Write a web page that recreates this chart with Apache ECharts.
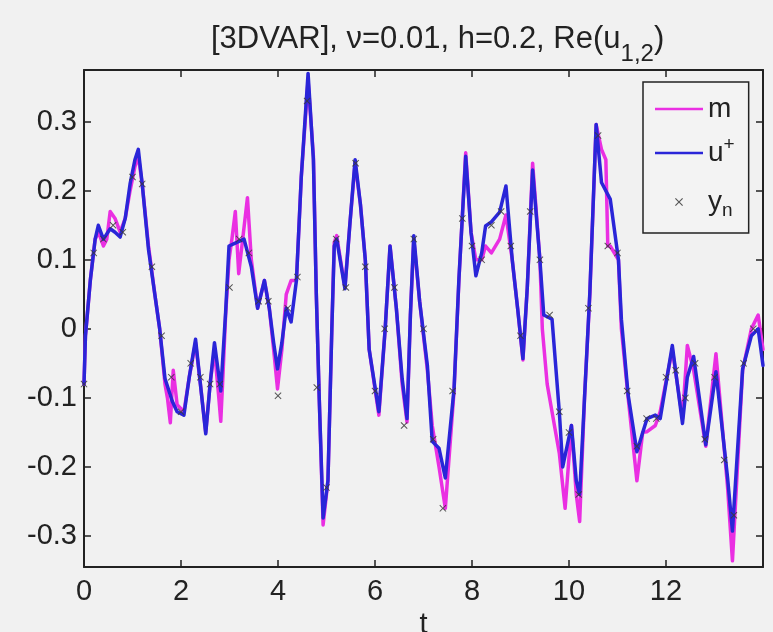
<!DOCTYPE html>
<html>
<head>
<meta charset="utf-8">
<script src="https://cdn.jsdelivr.net/npm/echarts@6/dist/echarts.min.js"></script>
<style>
html,body{margin:0;padding:0;background:#f1f1f1;}
#c{width:773px;height:632px;}
</style>
</head>
<body>
<div id="c"></div>
<script>
// ---- data ----
const titleText = '[3DVAR], ν=0.01, h=0.2, Re(u{sub|1,2})';
const xTicks = [0, 2, 4, 6, 8, 10, 12];
const yTicks = [-0.3, -0.2, -0.1, 0, 0.1, 0.2, 0.3];

// u+ (analysis, blue)
const uT = [0,0.03,0.13,0.23,0.295,0.40,0.54,0.64,0.745,0.85,0.95,1.05,1.12,1.20,1.33,1.46,1.56,1.67,1.82,1.92,2.06,2.17,2.30,2.40,2.51,2.60,2.69,2.82,2.92,2.99,3.14,3.30,3.45,3.58,3.72,3.82,3.91,3.99,4.08,4.17,4.27,4.38,4.48,4.62,4.73,4.79,4.85,4.93,5.03,5.11,5.16,5.21,5.38,5.48,5.59,5.70,5.80,5.88,6.08,6.21,6.31,6.44,6.56,6.66,6.73,6.80,6.92,7.08,7.18,7.32,7.45,7.63,7.73,7.87,7.98,8.08,8.20,8.28,8.40,8.57,8.70,8.83,8.94,9.05,9.14,9.25,9.40,9.48,9.65,9.80,9.87,10.05,10.15,10.22,10.32,10.43,10.56,10.67,10.85,11.02,11.08,11.22,11.40,11.52,11.61,11.78,11.88,12.13,12.34,12.44,12.57,12.82,13.03,13.27,13.37,13.58,13.76,13.90,14.0];
const uY = [-0.08,-0.01,0.07,0.13,0.15,0.13,0.145,0.14,0.133,0.16,0.21,0.245,0.26,0.21,0.115,0.05,0.0,-0.072,-0.105,-0.12,-0.125,-0.07,-0.015,-0.08,-0.152,-0.08,-0.02,-0.09,0.024,0.12,0.125,0.13,0.09,0.03,0.07,0.03,-0.02,-0.058,-0.02,0.03,0.01,0.07,0.22,0.37,0.245,0.05,-0.10,-0.274,-0.22,0.0,0.12,0.13,0.058,0.15,0.245,0.18,0.10,-0.03,-0.12,0.0,0.12,0.03,-0.072,-0.13,0.02,0.135,0.04,-0.053,-0.163,-0.173,-0.216,-0.087,0.072,0.25,0.14,0.077,0.11,0.149,0.155,0.169,0.207,0.10,0.03,-0.043,0.06,0.23,0.10,0.02,0.014,-0.12,-0.2,-0.14,-0.22,-0.24,-0.1,0.053,0.296,0.212,0.188,0.10,0.014,-0.096,-0.178,-0.15,-0.13,-0.125,-0.13,-0.024,-0.137,-0.07,-0.04,-0.168,-0.062,-0.216,-0.293,-0.058,-0.01,0.0,-0.053];

// m (forecast, magenta)
const mT = [0,0.03,0.13,0.23,0.30,0.40,0.47,0.54,0.64,0.745,0.85,0.95,1.05,1.12,1.20,1.33,1.46,1.56,1.67,1.72,1.78,1.84,1.92,2.06,2.17,2.30,2.40,2.51,2.60,2.69,2.78,2.82,2.87,2.92,2.99,3.05,3.12,3.19,3.37,3.45,3.58,3.72,3.82,3.91,3.99,4.08,4.17,4.27,4.38,4.48,4.62,4.73,4.79,4.85,4.93,5.03,5.11,5.16,5.21,5.38,5.48,5.59,5.70,5.80,5.88,6.08,6.21,6.31,6.44,6.56,6.66,6.73,6.80,6.92,7.08,7.18,7.32,7.45,7.63,7.73,7.87,7.98,8.08,8.20,8.28,8.40,8.57,8.70,8.83,8.94,9.05,9.14,9.25,9.40,9.45,9.55,9.65,9.80,9.92,10.05,10.15,10.22,10.32,10.43,10.56,10.67,10.76,10.80,10.85,11.02,11.08,11.22,11.40,11.52,11.61,11.78,11.88,12.13,12.34,12.44,12.57,12.82,13.03,13.27,13.37,13.58,13.76,13.90,14.0];
const mY = [-0.08,-0.01,0.07,0.13,0.14,0.12,0.13,0.17,0.16,0.14,0.16,0.20,0.235,0.25,0.21,0.12,0.05,0.0,-0.08,-0.10,-0.136,-0.06,-0.11,-0.12,-0.07,-0.02,-0.08,-0.15,-0.08,-0.03,-0.10,-0.134,-0.06,0.02,0.10,0.13,0.17,0.08,0.19,0.10,0.03,0.07,0.03,-0.03,-0.087,-0.03,0.05,0.07,0.07,0.22,0.36,0.25,0.05,-0.10,-0.284,-0.22,0.0,0.125,0.135,0.06,0.15,0.24,0.18,0.10,-0.03,-0.125,0.0,0.12,0.03,-0.08,-0.135,0.02,0.13,0.04,-0.06,-0.14,-0.20,-0.26,-0.09,0.07,0.255,0.14,0.10,0.10,0.12,0.11,0.13,0.165,0.10,0.03,-0.045,0.06,0.24,0.10,0.0,-0.08,-0.12,-0.18,-0.26,-0.14,-0.24,-0.279,-0.1,0.05,0.296,0.26,0.245,0.12,0.12,0.10,0.0,-0.10,-0.22,-0.15,-0.149,-0.14,-0.12,-0.03,-0.13,-0.024,-0.06,-0.17,-0.036,-0.23,-0.336,-0.06,0.0,0.02,-0.03];

// y_n (observations)
const yT = [0,0.2,0.4,0.6,0.8,1.0,1.2,1.4,1.6,1.8,2.0,2.2,2.4,2.6,2.8,3.0,3.2,3.4,3.6,3.8,4.0,4.2,4.4,4.6,4.8,5.0,5.2,5.4,5.6,5.8,6.0,6.2,6.4,6.6,6.8,7.0,7.2,7.4,7.6,7.8,8.0,8.2,8.4,8.6,8.8,9.0,9.2,9.4,9.6,9.8,10.0,10.2,10.4,10.6,10.8,11.0,11.2,11.4,11.6,11.8,12.0,12.2,12.4,12.6,12.8,13.0,13.2,13.4,13.6,13.8];
const yY = [-0.08,0.11,0.13,0.15,0.14,0.22,0.21,0.09,-0.01,-0.07,-0.12,-0.05,-0.07,-0.08,-0.08,0.06,0.13,0.11,0.04,0.04,-0.097,0.03,0.075,0.33,-0.085,-0.23,0.13,0.06,0.24,0.09,-0.09,0.0,0.06,-0.14,0.13,0.0,-0.16,-0.26,-0.09,0.16,0.12,0.10,0.15,0.17,0.12,-0.01,0.17,0.10,0.02,-0.12,-0.15,-0.24,0.03,0.28,0.12,0.11,-0.09,-0.17,-0.13,-0.13,-0.07,-0.06,-0.10,-0.05,-0.16,-0.07,-0.19,-0.27,-0.05,0.0];

const seriesNames = ['m', 'u+', 'y_n'];
// ---------------------------------------

const FONT = 'Liberation Sans, Arial, Helvetica, sans-serif';
const pairs = (t, v) => t.map((x, i) => [x, v[i]]);
const xMark = 'path://M0,1L1,0L5,4L9,0L10,1L6,5L10,9L9,10L5,6L1,10L0,9L4,5Z';
const lineIcon = 'path://M0,0L48,0L48,2.5L0,2.5Z';

const chart = echarts.init(document.getElementById('c'), null, {renderer: 'canvas'});
const axisLine = {show: true, onZero: false, lineStyle: {color: '#222', width: 2}};
const tickIn = {show: true, inside: true, length: 7, lineStyle: {color: '#222', width: 1.5}};

chart.setOption({
  backgroundColor: '#f1f1f1',
  animation: false,
  title: {
    text: titleText,
    left: 206, top: 17,
    textStyle: {
      fontFamily: FONT, fontSize: 31, fontWeight: 'normal', color: '#222', lineHeight: 34,
      rich: {sub: {fontFamily: FONT, fontSize: 24, color: '#222', verticalAlign: 'bottom', lineHeight: 20, padding: [0, 0, -10, 0]}}
    }
  },
  grid: {left: 84, right: 10, top: 70, bottom: 65, containLabel: false, outerBoundsMode: 'none'},
  xAxis: [{
    type: 'value', min: 0, max: 14, interval: 2, position: 'bottom',
    axisLine, axisTick: tickIn, splitLine: {show: false},
    axisLabel: {fontFamily: FONT, fontSize: 29, color: '#222', margin: 10, showMaxLabel: false},
    name: 't', nameLocation: 'middle', nameGap: 32,
    nameTextStyle: {fontFamily: FONT, fontSize: 29, color: '#222'}
  }, {
    type: 'value', min: 0, max: 14, interval: 2, position: 'top',
    axisLine, axisTick: tickIn, splitLine: {show: false}, axisLabel: {show: false}
  }],
  yAxis: [{
    type: 'value', min: -0.345, max: 0.375, position: 'left',
    axisLine, splitLine: {show: false},
    axisTick: Object.assign({}, tickIn, {customValues: yTicks}),
    axisLabel: {customValues: yTicks, fontFamily: FONT, fontSize: 29, color: '#222', margin: 7,
      formatter: v => Math.abs(v) < 1e-9 ? '0' : v.toFixed(1)}
  }, {
    type: 'value', min: -0.345, max: 0.375, position: 'right',
    axisLine, splitLine: {show: false},
    axisTick: Object.assign({}, tickIn, {customValues: yTicks}),
    axisLabel: {show: false}
  }],
  legend: {
    orient: 'vertical', left: 643, top: 82,
    padding: [13, 14, 13, 12],
    itemWidth: 48, itemHeight: 8, itemGap: 12,
    borderColor: '#222', borderWidth: 1.5, backgroundColor: '#f3f3f3',
    selectedMode: false,
    data: [{name: 'm', icon: lineIcon}, {name: 'u+', icon: lineIcon}, {name: 'y_n', icon: xMark}],
    formatter: name => name === 'u+' ? '{b|u}{sup|+}' : (name === 'y_n' ? '{b|y}{sub|n}' : '{b|m}'),
    textStyle: {
      fontFamily: FONT, fontSize: 28, color: '#222',
      rich: {
        b: {fontFamily: FONT, fontSize: 28, color: '#222', lineHeight: 36},
        sup: {fontFamily: FONT, fontSize: 19, color: '#222', verticalAlign: 'top', lineHeight: 22, padding: [0, 0, 12, 0]},
        sub: {fontFamily: FONT, fontSize: 19, color: '#222', verticalAlign: 'bottom', lineHeight: 22, padding: [22, 0, 0, 0]}
      }
    }
  },
  series: [{
    name: seriesNames[0], type: 'line', symbol: 'none', data: pairs(mT, mY),
    lineStyle: {color: '#ea2fe2', width: 3.5, join: 'round', cap: 'round'}, itemStyle: {color: '#ea2fe2'}, z: 2
  }, {
    name: seriesNames[1], type: 'line', symbol: 'none', data: pairs(uT, uY),
    lineStyle: {color: '#2a25d8', width: 3.5, join: 'round', cap: 'round'}, itemStyle: {color: '#2a25d8'}, z: 3
  }, {
    name: seriesNames[2], type: 'scatter', symbol: xMark, symbolSize: 7, data: pairs(yT, yY),
    itemStyle: {color: '#3a3a3a', opacity: 0.85}, z: 4
  }]
});
</script>
</body>
</html>
